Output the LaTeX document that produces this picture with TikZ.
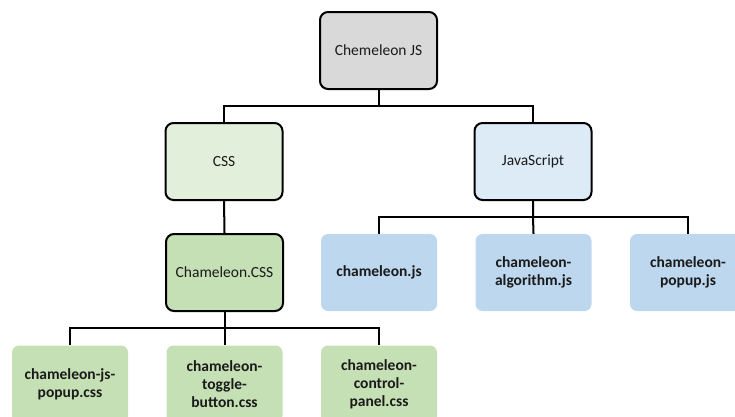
\documentclass[tikz,border=0pt]{standalone}
\usepackage{fontspec}
\setmainfont{Carlito}
\definecolor{rootfill}{HTML}{D9D9D9}
\definecolor{cssfill}{HTML}{E2EFDA}
\definecolor{jsfill}{HTML}{DDEBF7}
\definecolor{greenfill}{HTML}{C5E0B4}
\definecolor{bluefill}{HTML}{BDD7EE}
\definecolor{ink}{HTML}{1A1A1A}
\tikzset{
  framed/.style={draw=black, line width=2pt, rounded corners=8pt,
    minimum width=117pt, minimum height=77pt, inner sep=2pt,
    align=center, text=ink, font=\fontsize{15.5}{18.5}\selectfont},
  leaf/.style={rounded corners=7pt, minimum width=116pt, minimum height=77pt,
    inner sep=2pt, align=center, text=ink,
    font=\fontsize{15.5}{18}\selectfont\bfseries},
  greenleaf/.style={leaf, fill=greenfill},
  blueleaf/.style={leaf, fill=bluefill},
  link/.style={draw=black, line width=2pt},
}
\begin{document}
\begin{tikzpicture}[x=1pt, y=-1pt]
\useasboundingbox (0,0) rectangle (735,416);
\begin{scope}
\clip (0,0) rectangle (735,416);
% tree nodes
\node[framed, fill=rootfill] (root) at (378.5,50.5) {Chemeleon JS};
\node[framed, fill=cssfill] (css) at (224,161.5) {CSS};
\node[framed, fill=jsfill] (js) at (533,161.5) {JavaScript};
\node[framed, fill=greenfill] (ccss) at (224.5,272.5) {Chameleon.CSS};

\node[blueleaf] (jsA) at (379,272.5) {chameleon.js};
\node[blueleaf] (jsB) at (533.5,272.5) {chameleon-\\algorithm.js};
\node[blueleaf] (jsC) at (688,272.5) {chameleon-\\popup.js};

\node[greenleaf] (cssA) at (70,384) {chameleon-js-\\popup.css};
\node[greenleaf] (cssB) at (224.5,384) {chameleon-\\toggle-\\button.css};
\node[greenleaf] (cssC) at (379,384) {chameleon-\\control-\\panel.css};

% connectors
\coordinate (barA) at (0,106);
\coordinate (barB) at (0,217);
\coordinate (barC) at (0,328);
\draw[link] (root.south) -- (root.south |- barA) -| (css.north);
\draw[link] (root.south) -- (root.south |- barA) -| (js.north);
\draw[link] (css.south) -- (ccss.north);
\draw[link] (js.south) -- (js.south |- barB) -| (jsA.north);
\draw[link] (js.south) -- (js.south |- barB) -- (jsB.north);
\draw[link] (js.south) -- (js.south |- barB) -| (jsC.north);
\draw[link] (ccss.south) -- (ccss.south |- barC) -| (cssA.north);
\draw[link] (ccss.south) -- (ccss.south |- barC) -- (cssB.north);
\draw[link] (ccss.south) -- (ccss.south |- barC) -| (cssC.north);
\end{scope}
\end{tikzpicture}
\end{document}
